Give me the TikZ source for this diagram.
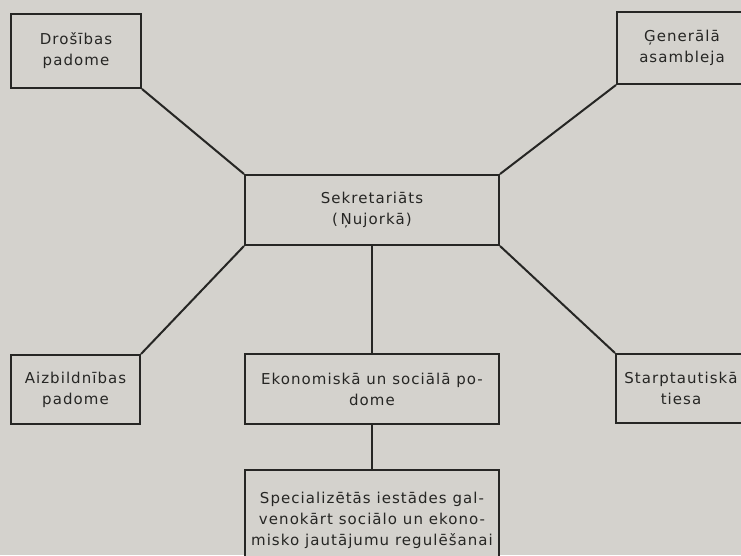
\documentclass[tikz,border=0pt]{standalone}
\usepackage{fontspec}
\setmainfont{DejaVu Sans}[LetterSpace=7]
\usetikzlibrary{positioning}
\definecolor{paper}{RGB}{212,210,205}
\definecolor{ink}{RGB}{38,38,36}

\begin{document}
\begin{tikzpicture}[x=1pt, y=-1pt,
  organ/.style={draw=ink, text=ink, fill=paper, line width=2pt,
    anchor=north west, align=center, inner sep=2pt,
    font=\fontsize{15}{21}\selectfont},
  link/.style={draw=ink, line width=2pt}
]
\useasboundingbox (0,0) rectangle (741,555);
\clip (0,0) rectangle (741,555);
\fill[paper] (0,0) rectangle (741,555);

\node[organ, minimum width=130pt, minimum height=74pt] (dros) at (10,13)
  {Drošības\\padome};
\node[organ, minimum width=130pt, minimum height=72pt] (gen) at (616,11)
  {Ģenerālā\\asambleja};
\node[organ, minimum width=254pt, minimum height=70pt] (sekr) at (244,174)
  {Sekretariāts\\(\,Ņujorkā)};
\node[organ, minimum width=129pt, minimum height=69pt] (aizb) at (10,354)
  {Aizbildnības\\padome};
\node[organ, minimum width=254pt, minimum height=70pt] (ekon) at (244,353)
  {Ekonomiskā un sociālā po-\\dome};
\node[organ, minimum width=130pt, minimum height=69pt] (starp) at (615,353)
  {Starptautiskā\\tiesa};
\node[organ, minimum width=254pt, minimum height=100pt] (spec) at (244,469)
  {Specializētās iestādes gal-\\venokārt sociālo un ekono-\\misko jautājumu regulēšanai};

\draw[link] (dros.south east) -- (sekr.north west);
\draw[link] (gen.south west) -- (sekr.north east);
\draw[link] (sekr.south west) -- (aizb.north east);
\draw[link] (sekr.south east) -- (starp.north west);
\draw[link] (sekr.south) -- (ekon.north);
\draw[link] (ekon.south) -- (spec.north);
\end{tikzpicture}
\end{document}
